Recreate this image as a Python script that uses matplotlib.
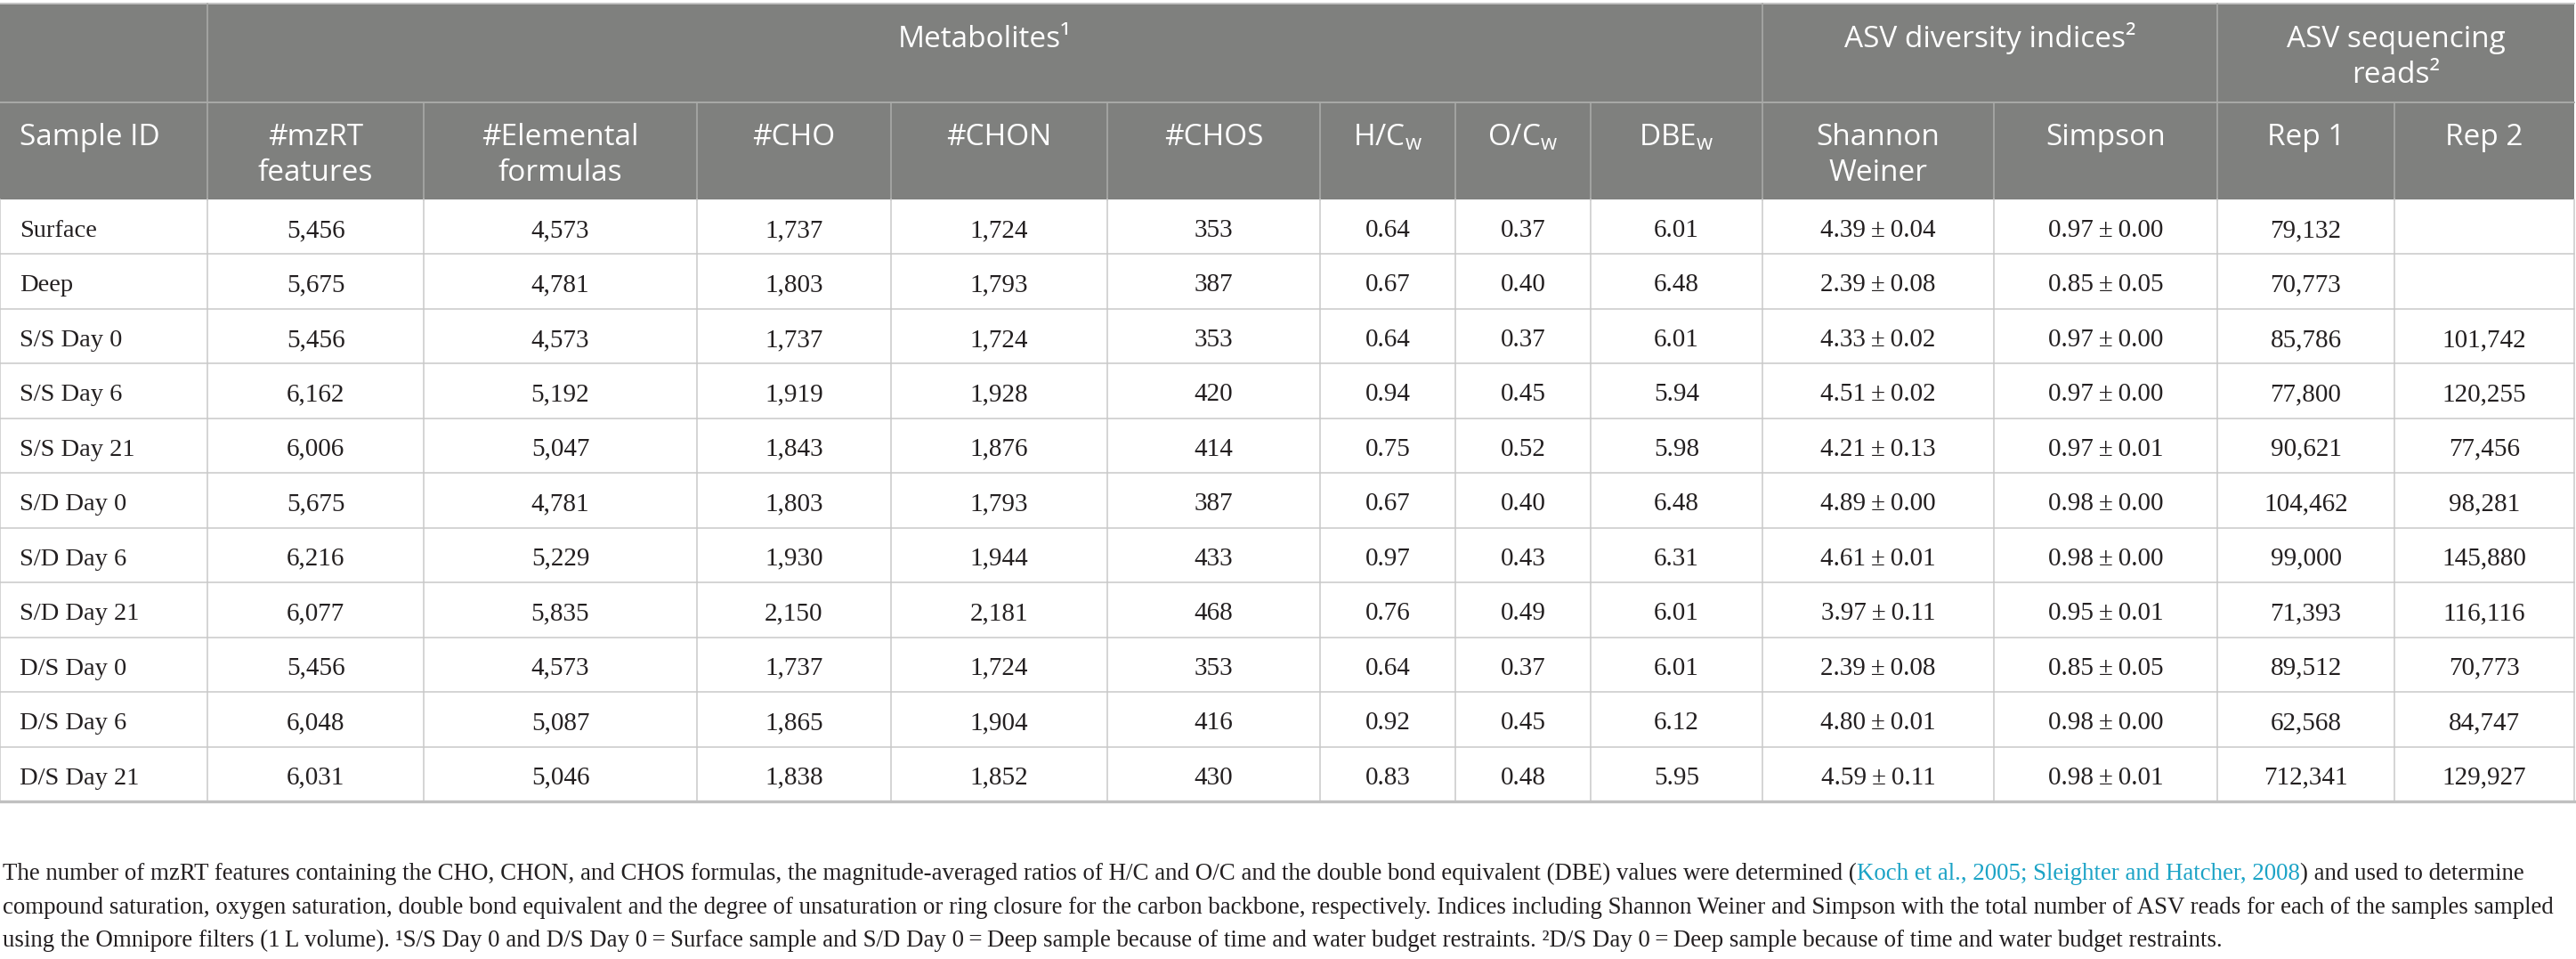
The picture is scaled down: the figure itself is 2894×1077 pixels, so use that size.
import matplotlib
matplotlib.use('Agg')
import matplotlib.pyplot as plt
from matplotlib.patches import Rectangle

# table values
sample_ids = ['Surface', 'Deep', 'S/S Day 0', 'S/S Day 6', 'S/S Day 21', 'S/D Day 0',
              'S/D Day 6', 'S/D Day 21', 'D/S Day 0', 'D/S Day 6', 'D/S Day 21']
mzrt_features = [5456, 5675, 5456, 6162, 6006, 5675, 6216, 6077, 5456, 6048, 6031]
elemental_formulas = [4573, 4781, 4573, 5192, 5047, 4781, 5229, 5835, 4573, 5087, 5046]
n_cho = [1737, 1803, 1737, 1919, 1843, 1803, 1930, 2150, 1737, 1865, 1838]
n_chon = [1724, 1793, 1724, 1928, 1876, 1793, 1944, 2181, 1724, 1904, 1852]
n_chos = [353, 387, 353, 420, 414, 387, 433, 468, 353, 416, 430]
hc_w = [0.64, 0.67, 0.64, 0.94, 0.75, 0.67, 0.97, 0.76, 0.64, 0.92, 0.83]
oc_w = [0.37, 0.40, 0.37, 0.45, 0.52, 0.40, 0.43, 0.49, 0.37, 0.45, 0.48]
dbe_w = [6.01, 6.48, 6.01, 5.94, 5.98, 6.48, 6.31, 6.01, 6.01, 6.12, 5.95]
shannon_mean = [4.39, 2.39, 4.33, 4.51, 4.21, 4.89, 4.61, 3.97, 2.39, 4.80, 4.59]
shannon_sd = [0.04, 0.08, 0.02, 0.02, 0.13, 0.00, 0.01, 0.11, 0.08, 0.01, 0.11]
simpson_mean = [0.97, 0.85, 0.97, 0.97, 0.97, 0.98, 0.98, 0.95, 0.85, 0.98, 0.98]
simpson_sd = [0.00, 0.05, 0.00, 0.00, 0.01, 0.00, 0.00, 0.01, 0.05, 0.00, 0.01]
reads_rep1 = [79132, 70773, 85786, 77800, 90621, 104462, 99000, 71393, 89512, 62568, 712341]
reads_rep2 = [None, None, 101742, 120255, 77456, 98281, 145880, 116116, 70773, 84747, 129927]

col_labels = ['Sample ID', '#mzRT\nfeatures', '#Elemental\nformulas', '#CHO', '#CHON', '#CHOS',
              r'H/C$_\mathregular{w}$', r'O/C$_\mathregular{w}$', r'DBE$_\mathregular{w}$',
              'Shannon\nWeiner', 'Simpson', 'Rep 1', 'Rep 2']
group_labels = ['Metabolites\u00b9', 'ASV diversity indices\u00b2', 'ASV sequencing\nreads\u00b2']
group_spans = [(1, 9), (9, 11), (11, 13)]

footnote = [
    ['The number of mzRT features containing the CHO, CHON, and CHOS formulas, the magnitude-averaged '
     'ratios of H/C and O/C and the double bond equivalent (DBE) values were determined (',
     'Koch et al., 2005; Sleighter and Hatcher, 2008', ') and used to determine'],
    ['compound saturation, oxygen saturation, double bond equivalent and the degree of unsaturation or '
     'ring closure for the carbon backbone, respectively. Indices including Shannon Weiner and Simpson '
     'with the total number of ASV reads for each of the samples sampled'],
    ['using the Omnipore filters (1\u2009L volume). \u00b9S/S Day 0 and D/S Day 0\u2009=\u2009Surface sample '
     'and S/D Day 0\u2009=\u2009Deep sample because of time and water budget restraints. '
     '\u00b2D/S Day 0\u2009=\u2009Deep sample because of time and water budget restraints.'],
]

# layout in pixels
W, H = 2894, 1077
col_x = [0, 233, 476, 783, 1001, 1244, 1483, 1635, 1787, 1980, 2240, 2491, 2690, 2892]
top, mid, head_bot, tab_bot = 4, 115, 224, 900
row_h = (tab_bot - head_bot) / len(sample_ids)

head_bg = '#7f807e'
head_line = '#a9aaa8'
grid = '#c9c9c9'
txt = '#231f20'
link = '#1ba3c6'

head_font = 'Open Sans'
body_font = 'Liberation Serif'
plt.rcParams['mathtext.fontset'] = 'custom'
plt.rcParams['mathtext.rm'] = head_font

fig = plt.figure(figsize=(W / 100, H / 100), dpi=100)
ax = fig.add_axes([0, 0, 1, 1])
ax.set_xlim(0, W)
ax.set_ylim(H, 0)
ax.axis('off')

# header block
ax.add_patch(Rectangle((0, top), col_x[-1], head_bot - top, facecolor=head_bg, edgecolor='none'))
ax.plot([0, col_x[-1]], [top, top], color='#c4c4c4', lw=1.4)
ax.plot([0, col_x[-1]], [mid, mid], color=head_line, lw=1.4)
for x in [col_x[1], col_x[9], col_x[11]]:
    ax.plot([x, x], [top, mid], color=head_line, lw=1.2)
for x in col_x[1:-1]:
    ax.plot([x, x], [mid, head_bot], color=head_line, lw=1.2)

hsize = 24
for lab, (a, b) in zip(group_labels, group_spans):
    cx = (col_x[a] + col_x[b]) / 2
    for i, line in enumerate(lab.split('\n')):
        ax.text(cx, 53 + i * 40, line, ha='center', va='baseline', color='white',
                fontsize=hsize, family=head_font)

for j, lab in enumerate(col_labels):
    for i, line in enumerate(lab.split('\n')):
        if j == 0:
            ax.text(22, 163, line, ha='left', va='baseline', color='white',
                    fontsize=hsize, family=head_font)
        else:
            cx = (col_x[j] + col_x[j + 1]) / 2
            ax.text(cx, 163 + i * 40, line, ha='center', va='baseline', color='white',
                    fontsize=hsize, family=head_font)

# body cells
def fmt_int(v):
    return '' if v is None else f'{v:,}'

def fmt_pm(m, s):
    return f'{m:.2f}\u2009\u00b1\u2009{s:.2f}'

columns = [
    [fmt_int(v) for v in mzrt_features],
    [fmt_int(v) for v in elemental_formulas],
    [fmt_int(v) for v in n_cho],
    [fmt_int(v) for v in n_chon],
    [fmt_int(v) for v in n_chos],
    [f'{v:.2f}' for v in hc_w],
    [f'{v:.2f}' for v in oc_w],
    [f'{v:.2f}' for v in dbe_w],
    [fmt_pm(m, s) for m, s in zip(shannon_mean, shannon_sd)],
    [fmt_pm(m, s) for m, s in zip(simpson_mean, simpson_sd)],
    [fmt_int(v) for v in reads_rep1],
    [fmt_int(v) for v in reads_rep2],
]

for r, sid in enumerate(sample_ids):
    y0 = head_bot + r * row_h
    base = y0 + 42
    ax.text(22, base, sid, ha='left', va='baseline', color=txt, fontsize=20.5, family=body_font)
    for c, vals in enumerate(columns):
        cx = (col_x[c + 1] + col_x[c + 2]) / 2
        ax.text(cx, base, vals[r], ha='center', va='baseline', color=txt,
                fontsize=21, family=body_font)
    if r > 0:
        ax.plot([0, col_x[-1]], [y0, y0], color=grid, lw=1.1)

for x in col_x:
    ax.plot([x, x], [head_bot, tab_bot], color=grid, lw=1.1)
ax.plot([0, col_x[-1]], [tab_bot, tab_bot], color='#c0c0c0', lw=2.4)

# footnote, drawn piece by piece so the citation can be coloured
fig.canvas.draw()
renderer = fig.canvas.get_renderer()
fsize = 19.4
for i, pieces in enumerate(footnote):
    base = 988 + i * 37.5
    x = 3
    for k, piece in enumerate(pieces):
        color = link if (len(pieces) == 3 and k == 1) else txt
        t = ax.text(x, base, piece, ha='left', va='baseline', color=color,
                    fontsize=fsize, family=body_font)
        bb = t.get_window_extent(renderer=renderer)
        x = x + bb.width

fig.savefig('out.png', dpi=100)
